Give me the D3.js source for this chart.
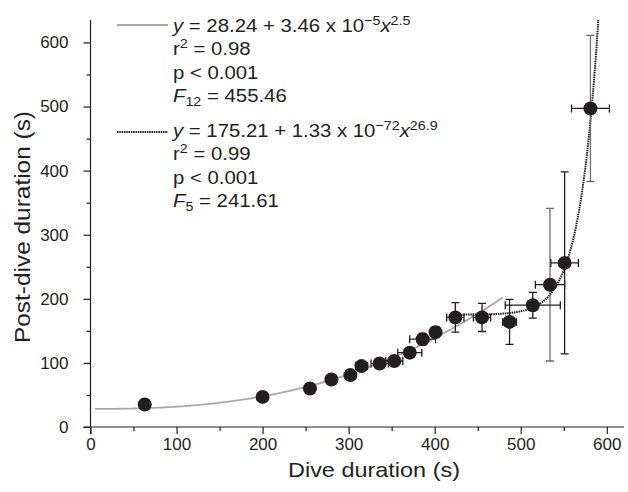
<!DOCTYPE html>
<html>
<head>
<meta charset="utf-8">
<script src="https://cdn.jsdelivr.net/npm/d3@7"></script>
<style>
  body { margin: 0; background: #fff; }
  svg { font-family: "Liberation Sans", Arial, sans-serif; }
  .axis text { font-size: 17px; fill: #231f20; }
  .axis path, .axis line { stroke: #231f20; stroke-width: 1.2; }
  .legend text { font-size: 18.5px; fill: #231f20; }
</style>
</head>
<body>
<svg id="chart" width="628" height="492"></svg>
<script>
const diveDur = [63, 200, 255, 280, 302, 315, 336, 353, 371, 386, 401, 424, 455, 487, 514, 534, 551, 581];
const postDur = [35, 47, 60, 74, 81, 95, 99, 103, 116, 137, 148, 171, 171, 164, 190, 222, 256, 497];
const diveErr = [0, 0, 0, 0, 0, 7, 10, 10, 14, 15, 0, 10, 10, 8, 32, 17, 16, 22];
const postErr = [4, 0, 0, 0, 0, 0, 0, 0, 0, 9, 8, 23, 22, 35, 20, 119, 142, 114];
const xTicks = [0, 100, 200, 300, 400, 500, 600];
const yTicks = [0, 100, 200, 300, 400, 500, 600];

const margin = {left: 90.5, right: 4, top: 20, bottom: 65};
const svg = d3.select("#chart");
const width = 628, height = 492;

const x = d3.scaleLinear().domain([0, 620]).range([margin.left, width - margin.right]);
const y = d3.scaleLinear().domain([0, 635]).range([height - margin.bottom, margin.top]);

// minor ticks first, then the labelled ones
svg.append("g")
    .attr("class", "axis")
    .attr("transform", `translate(0,${y(0)})`)
    .call(d3.axisBottom(x).tickValues(d3.range(50, 620, 100)).tickSize(4).tickFormat(""))
    .call(g => g.select(".domain").remove());
svg.append("g")
    .attr("class", "axis")
    .attr("transform", `translate(${x(0)},0)`)
    .call(d3.axisLeft(y).tickValues(d3.range(50, 640, 100)).tickSize(4).tickFormat(""))
    .call(g => g.select(".domain").remove());

svg.append("g")
    .attr("class", "axis")
    .attr("transform", `translate(0,${y(0)})`)
    .call(d3.axisBottom(x).tickValues(xTicks).tickSize(7).tickPadding(4).tickSizeOuter(0))
    .call(g => g.select(".domain").attr("d", `M${x(0) - 7},0H${x(620)}`));
svg.append("g")
    .attr("class", "axis")
    .attr("transform", `translate(${x(0)},0)`)
    .call(d3.axisLeft(y).tickValues(yTicks).tickSize(7).tickPadding(15).tickSizeOuter(0))
    .call(g => g.select(".domain").attr("d", `M0,${y(0) + 7}V${y(635)}`));

svg.append("text")
    .attr("x", 374).attr("y", 477)
    .attr("text-anchor", "middle")
    .attr("font-size", 21).attr("fill", "#231f20")
    .attr("textLength", 172).attr("lengthAdjust", "spacingAndGlyphs")
    .text("Dive duration (s)");
svg.append("text")
    .attr("transform", `translate(30,227) rotate(-90)`)
    .attr("text-anchor", "middle")
    .attr("font-size", 22).attr("fill", "#231f20")
    .attr("textLength", 232).attr("lengthAdjust", "spacingAndGlyphs")
    .text("Post-dive duration (s)");

svg.append("clipPath").attr("id", "plot")
    .append("rect")
    .attr("x", x(0)).attr("y", y(635))
    .attr("width", x(620) - x(0)).attr("height", y(0) - y(635));

const plot = svg.append("g").attr("clip-path", "url(#plot)");

const fitA = d => 28.24 + 3.46e-5 * Math.pow(d, 2.5);
const fitB = d => 175.21 + 1.33e-72 * Math.pow(d, 26.9);
const line = d3.line().x(d => x(d[0])).y(d => y(d[1]));

plot.append("path")
    .datum(d3.range(5, 481, 2).map(d => [d, fitA(d)]))
    .attr("d", line)
    .attr("fill", "none").attr("stroke", "#a7a9ac").attr("stroke-width", 1.8);

plot.append("path")
    .datum(d3.range(428, 600, 0.5).map(d => [d, Math.min(fitB(d), 800)]))
    .attr("d", line)
    .attr("fill", "none").attr("stroke", "#231f20").attr("stroke-width", 2)
    .attr("stroke-dasharray", "1.5,0.8");

const points = diveDur.map((d, i) => ({dx: d, py: postDur[i], ex: diveErr[i], ey: postErr[i], i}));
const cap = 4;
const bars = plot.append("g").attr("fill", "none").attr("stroke-width", 1.3);

points.filter(p => p.ey > 0).forEach(p => {
    const col = (p.i === 15 || p.i === 17) ? "#6d6e71" : "#231f20";
    bars.append("path")
        .attr("stroke", col)
        .attr("d", `M${x(p.dx)},${y(p.py - p.ey)}V${y(p.py + p.ey)}` +
            `M${x(p.dx) - cap},${y(p.py - p.ey)}h${cap * 2}` +
            `M${x(p.dx) - cap},${y(p.py + p.ey)}h${cap * 2}`);
});
points.filter(p => p.ex > 0).forEach(p => {
    bars.append("path")
        .attr("stroke", "#231f20")
        .attr("d", `M${x(p.dx - p.ex)},${y(p.py)}H${x(p.dx + p.ex)}` +
            `M${x(p.dx - p.ex)},${y(p.py) - cap}v${cap * 2}` +
            `M${x(p.dx + p.ex)},${y(p.py) - cap}v${cap * 2}`);
});

plot.append("g").selectAll("circle")
    .data(points).enter()
    .append("circle")
        .attr("cx", d => x(d.dx))
        .attr("cy", d => y(d.py))
        .attr("r", 7)
        .attr("fill", "#231f20");

// legend, text a little wider than the font to match the original
const legend = svg.append("g").attr("class", "legend");
const legendText = legend.append("g").attr("transform", "translate(173,0) scale(1.1,1)");
const lineH = 23.3;
const sup = 13;

const addBlock = function(top, base, stroke, dash, coef, mant, expo, power, r2, fSub, fVal) {
    legend.append("line")
        .attr("x1", 117).attr("x2", 168).attr("y1", top).attr("y2", top)
        .attr("stroke", stroke).attr("stroke-width", 2)
        .attr("stroke-dasharray", dash);
    const t1 = legendText.append("text").attr("x", 0).attr("y", base);
    t1.append("tspan").attr("font-style", "italic").text("y");
    t1.append("tspan").text(` = ${coef} + ${mant} x 10`);
    t1.append("tspan").attr("font-size", sup).attr("dy", -7).text(expo);
    t1.append("tspan").attr("font-style", "italic").attr("dy", 7).text("x");
    t1.append("tspan").attr("font-size", sup).attr("dy", -7).text(power);
    const t2 = legendText.append("text").attr("x", 0).attr("y", base + lineH);
    t2.append("tspan").text("r");
    t2.append("tspan").attr("font-size", sup).attr("dy", -7).text("2");
    t2.append("tspan").attr("dy", 7).text(` = ${r2}`);
    legendText.append("text").attr("x", 0).attr("y", base + lineH * 2).text("p < 0.001");
    const t4 = legendText.append("text").attr("x", 0).attr("y", base + lineH * 3);
    t4.append("tspan").attr("font-style", "italic").text("F");
    t4.append("tspan").attr("font-size", sup).attr("dy", 4).text(fSub);
    t4.append("tspan").attr("dy", -4).text(` = ${fVal}`);
};

addBlock(25, 32, "#a7a9ac", null, "28.24", "3.46", "\u22125", "2.5", "0.98", "12", "455.46");
addBlock(132, 137, "#231f20", "1.5,0.8", "175.21", "1.33", "\u221272", "26.9", "0.99", "5", "241.61");
</script>
</body>
</html>
